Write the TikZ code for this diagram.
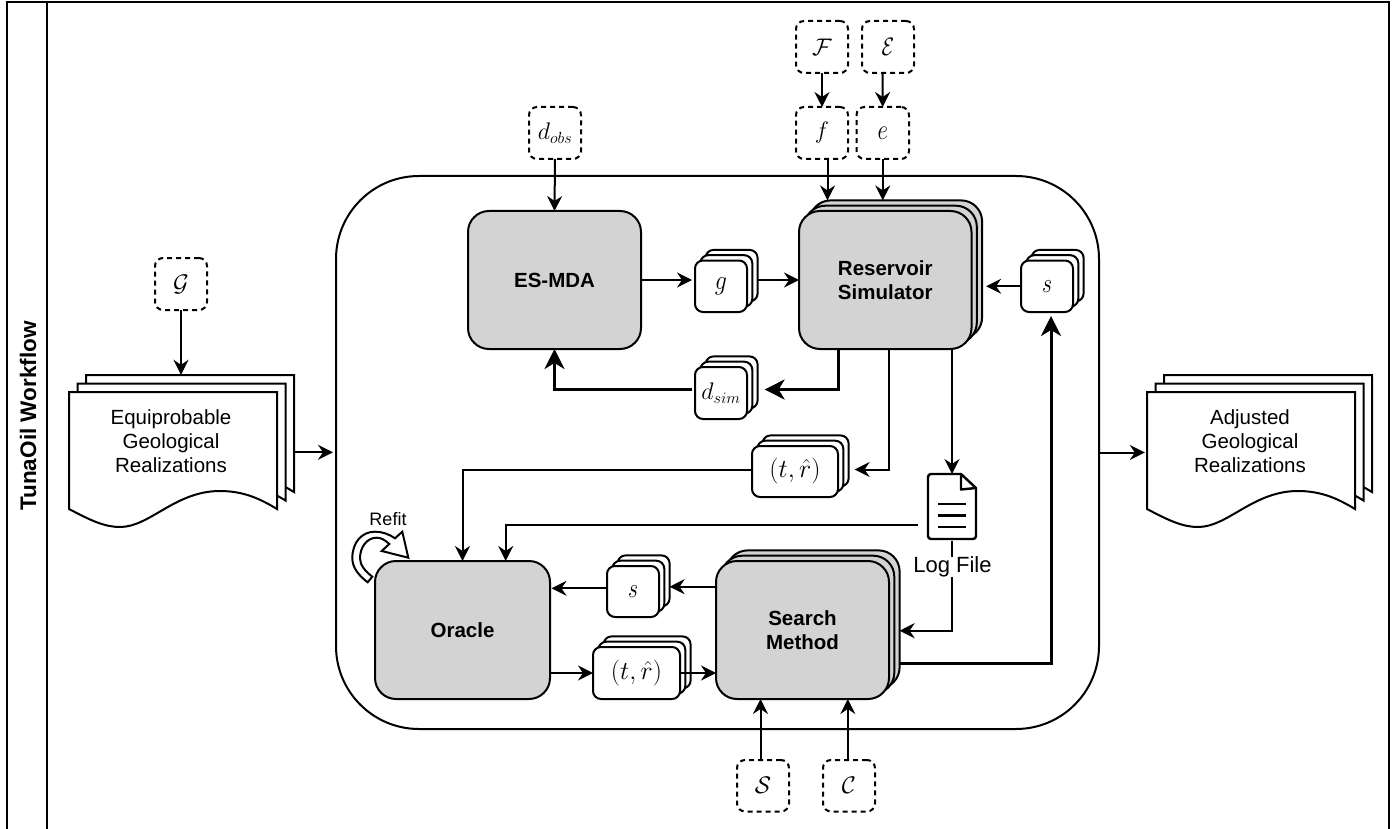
\RequirePackage{fix-cm}
\documentclass[tikz,border=0pt]{standalone}
\usepackage{fontspec}
\setmainfont{Liberation Sans}
\usetikzlibrary{arrows.meta,calc}
\DeclareMathSizes{24}{24}{16}{12}
\newcommand{\mth}[3]{\scalebox{#1}[#2]{$#3$}}
\tikzset{
  base/.style={line width=2pt,line join=round},
  cardbox/.style={base,draw=black,fill=white,rounded corners=8pt,inner sep=0pt,outer sep=0pt,font=\fontsize{24}{28}\selectfont},
  bigbox/.style={base,draw=black,fill=boxgray,rounded corners=21pt,inner sep=0pt,outer sep=0pt,align=center,font=\fontsize{20.5}{24}\selectfont\bfseries},
  dashbox/.style={cardbox,dash pattern=on 5pt off 4pt},
  arr/.style={line width=2pt,line join=miter,-{Stealth[length=15pt,width=15pt,inset=5pt]}},
  thickarr/.style={line width=3pt,line join=miter,-{Stealth[length=20pt,width=20pt,inset=6pt]}},
  sheet/.style={base,line join=miter,draw=black,fill=white},
  label/.style={inner sep=0pt,outer sep=0pt,align=center,font=\fontsize{20.5}{24}\selectfont}
}
\definecolor{boxgray}{HTML}{D3D3D3}
% single box: name, x1,y1,x2,y2, style, text
\newcommand{\boxat}[7]{%
  \pgfmathsetmacro{\bw}{#4-#2}\pgfmathsetmacro{\bh}{#5-#3}%
  \pgfmathsetmacro{\bcx}{(#4+#2)/2}\pgfmathsetmacro{\bcy}{(#5+#3)/2}%
  \node[#6,minimum width=\bw pt,minimum height=\bh pt] (#1) at (\bcx,\bcy) {#7};}
% stack of three: front box given; back one is named <name>b
\newcommand{\stackat}[7]{%
  \pgfmathsetmacro{\sxa}{#2+10.6}\pgfmathsetmacro{\sya}{#3-10.6}%
  \pgfmathsetmacro{\sxb}{#4+10.6}\pgfmathsetmacro{\syb}{#5-10.6}%
  \boxat{#1b}{\sxa}{\sya}{\sxb}{\syb}{#6}{}%
  \pgfmathsetmacro{\sxa}{#2+5.3}\pgfmathsetmacro{\sya}{#3-5.3}%
  \pgfmathsetmacro{\sxb}{#4+5.3}\pgfmathsetmacro{\syb}{#5-5.3}%
  \boxat{#1m}{\sxa}{\sya}{\sxb}{\syb}{#6}{}%
  \boxat{#1}{#2}{#3}{#4}{#5}{#6}{#7}}
% wave page with left edge at x=#1, top at y=#2
\newcommand{\wavepage}[2]{%
  \draw[sheet,shift={(#1,#2)}] (0,0) -- (208,0) -- (208,117)
    .. controls (193,108) and (176,99) .. (151,99)
    .. controls (106,99) and (81,135) .. (51,135)
    .. controls (35,135) and (21,128) .. (0,117) -- cycle;}
\begin{document}
\begin{tikzpicture}[x=1pt,y=-1pt]
\useasboundingbox (0,0) rectangle (1400,829);
% frame
\draw[base,line join=miter] (7,829) -- (7,2) -- (1389,2) -- (1389,829);
\draw[base] (46.5,2) -- (46.5,829);
\node[rotate=90,inner sep=0pt,font=\fontsize{22.5}{26}\selectfont\bfseries] (lane) at (28,416) {TunaOil Workflow};
% container
\boxat{main}{336}{176}{1099}{729}{base,draw=black,rounded corners=83pt,inner sep=0pt,outer sep=0pt}{}
% big boxes
\boxat{esmda}{468}{211}{641}{349}{bigbox}{ES-MDA}
\stackat{res}{799}{211}{971.5}{349}{bigbox}{Reservoir\\Simulator}
\boxat{oracle}{375}{561}{550}{699}{bigbox}{Oracle}
\stackat{search}{716}{561}{889}{699}{bigbox}{Search\\Method}
% dashed boxes
\boxat{dobs}{529}{107}{581}{159}{dashbox}{$d_{obs}$}
\boxat{Fcal}{796}{21}{848}{73}{dashbox}{$\mathcal{F}$}
\boxat{Ecal}{862}{21}{914}{73}{dashbox}{\mth{.85}{1.05}{\mathcal{E}}}
\boxat{fsm}{796}{107}{848}{159}{dashbox}{$f$}
\boxat{esm}{856.5}{107}{909}{159}{dashbox}{\mth{.95}{1.2}{e}}
\boxat{Gcal}{155}{258}{207}{310}{dashbox}{$\mathcal{G}$}
\boxat{Scal}{737}{760}{789}{811.5}{dashbox}{$\mathcal{S}$}
\boxat{Ccal}{823}{760}{875}{811.5}{dashbox}{$\mathcal{C}$}
% small stacks
\stackat{g}{695}{260.5}{747}{312}{cardbox}{\mth{1}{1.15}{g}}
\stackat{sa}{1021}{260.5}{1073}{312}{cardbox}{\mth{.9}{1.15}{s}}
\stackat{dsim}{695}{367}{747}{419}{cardbox}{$d_{sim}$}
\stackat{tra}{752}{446}{838}{497}{cardbox}{\mth{1.08}{1.08}{(t,\hat{r})}}
\stackat{sb}{607}{566}{659}{617}{cardbox}{\mth{.9}{1.15}{s}}
\stackat{trb}{593}{647}{680}{699}{cardbox}{\mth{1.08}{1.08}{(t,\hat{r})}}
% wave documents
\wavepage{86}{375}\wavepage{77.5}{383.5}\wavepage{69}{392}
\wavepage{1164}{375}\wavepage{1155.5}{383.5}\wavepage{1147}{392}
\node[inner sep=0pt,minimum width=208pt,minimum height=117pt] (docl) at (173,450.5) {};
\node[inner sep=0pt,minimum width=208pt,minimum height=117pt] (docr) at (1251,450.5) {};
\node[inner sep=0pt,minimum width=208pt,minimum height=17pt] (doclb) at (190,383.5) {};
\node[label] (tl) at (171,441) {Equiprobable\\Geological\\Realizations};
\node[label] (tr) at (1250,441) {Adjusted\\Geological\\Realizations};
% log file icon
\node[inner sep=0pt,outer sep=0pt,minimum width=48pt,minimum height=65pt] (logicon) at (952,506.5) {};
\draw[line width=2.4pt,line join=round,rounded corners=3pt] (961,474) -- (928,474) -- (928,539) -- (976,539) -- (976,488);
\draw[line width=2.4pt,line join=round] (961,474) -- (976,488) -- (961,489.5) -- cycle;
\draw[line width=2.4pt] (938,504) -- (966,504) (938,515.5) -- (966,515.5) (938,527) -- (966,527);
\node[inner sep=0pt,outer sep=0pt,font=\fontsize{22}{26}\selectfont] (loglabel) at (952.5,567) {Log File};
% refit
\draw[base,fill=white,line join=miter] (367.7,582.3) .. controls (358,575) and (352.3,567) .. (352.3,558.3)
  .. controls (352.3,542) and (362,531.7) .. (375,531.7) .. controls (382,531.7) and (389,534) .. (395,538.3)
  -- (402.3,531.7) -- (408.3,557.7) -- (381.7,551) -- (389.3,544)
  .. controls (385,540) and (381,537.7) .. (376.7,537.7) .. controls (367,537.7) and (360,547) .. (360,558.3)
  .. controls (360,565) and (365,571) .. (372.3,576.7) -- cycle;
\node[inner sep=0pt,font=\fontsize{18}{22}\selectfont] (refit) at (388,519) {Refit};
% bend helpers
\coordinate (bdsim) at (838.3,389.5);
\coordinate (btra) at (888.8,469.5);
\coordinate (blog) at (505.7,524.5);
\coordinate (bsearch) at (1051,663.3);
\coordinate (blogin) at (952.5,630.7);
% connectors
\draw[arr] (Fcal.south) -- (fsm.north);
\draw[arr] ([xshift=-5.5pt]Ecal.south) -- (esm.north);
\draw[arr] ([xshift=5.5pt]fsm.south) -- ([xshift=5.5pt]fsm.south |- resb.north);
\draw[arr] (esm.south) -- (esm.south |- resb.north);
\draw[arr] (dobs.south) -- (esmda.north);
\draw[arr] (Gcal.south) -- (Gcal.south |- doclb.north);
\draw[arr,shorten >=3pt] (esmda.east) -- (esmda.east -| g.west);
\draw[arr] (gb.east |- esmda.east) -- (res.west |- esmda.east);
\draw[arr,shorten >=4pt] (sa.west) -- (sa.west -| resb.east);
\draw[thickarr,shorten >=7pt] (res.south -| bdsim) -- (bdsim) -- (bdsim -| dsimb.east);
\draw[thickarr] ([yshift=3.5pt,xshift=-3pt]dsim.west) -- (esmda.south |- bdsim) -- (esmda.south);
\draw[arr,shorten >=6pt] (res.south -| btra) -- (btra) -- (btra -| trab.east);
\draw[arr] (tra.west |- btra) -- (oracle.north |- btra) -- (oracle.north);
\draw[arr] (res.south -| logicon.north) -- (logicon.north);
\draw[arr] ([xshift=-10pt]logicon.west |- blog) -- (blog) -- (blog |- oracle.north);
\draw[line width=2pt] ([yshift=-2pt]logicon.south) -- (logicon.south |- loglabel.north);
\draw[arr] (logicon.south |- loglabel.south) -- (logicon.south |- blogin) -- (searchb.east |- blogin);
\draw[arr] (search.west |- 0,586.7) -- (sbb.east |- 0,586.7);
\draw[arr] (sb.west |- 0,588.3) -- ([xshift=1.5pt]oracle.east |- 0,588.3);
\draw[arr] (oracle.east |- trb.west) -- (trb.west);
\draw[arr] (trb.east) -- (search.west |- trb.east);
\draw[thickarr,shorten >=4pt] (searchb.east |- bsearch) -- (bsearch) -- (bsearch |- sa.south);
\draw[arr] ([xshift=-2.5pt]Scal.north) -- ([xshift=-2.5pt]Scal.north |- search.south);
\draw[arr] ([xshift=-1.2pt]Ccal.north) -- ([xshift=-1.2pt]Ccal.north |- search.south);
\draw[arr,shorten >=3pt] (doclb.east |- 0,452.3) -- (main.west |- 0,452.3);
\draw[arr,shorten >=2pt] (main.east |- 0,452.5) -- (docr.west |- 0,452.5);
\end{tikzpicture}
\end{document}
